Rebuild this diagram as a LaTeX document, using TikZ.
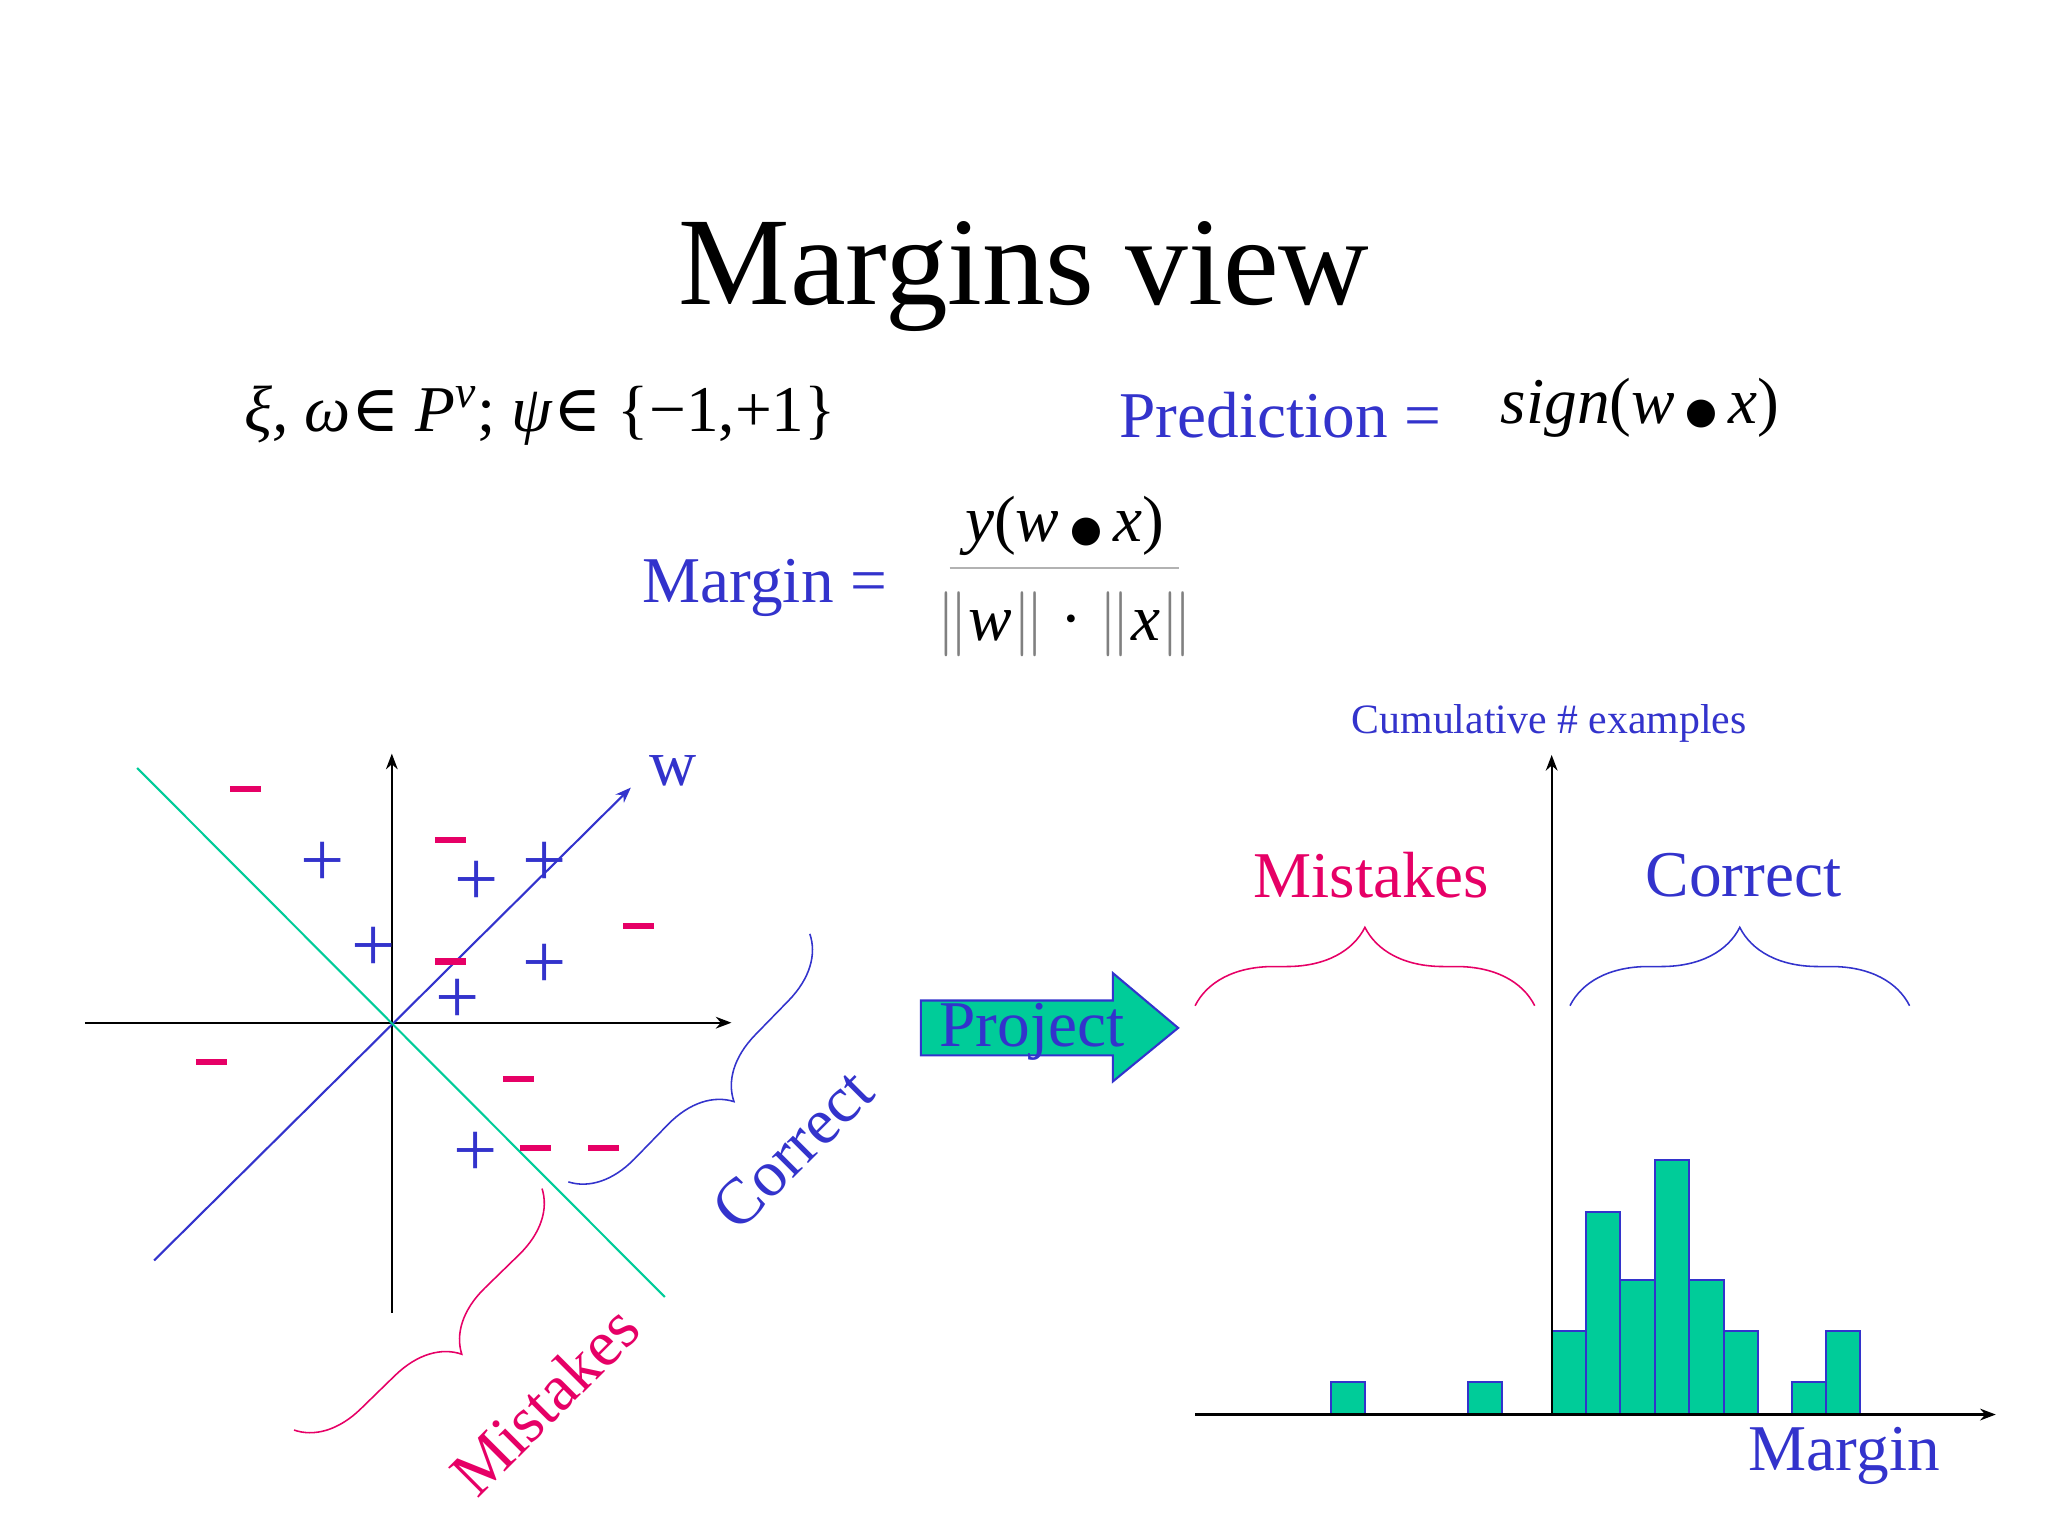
\documentclass[tikz,border=0pt]{standalone}
\usepackage{fontspec}
\setmainfont{Liberation Serif}
\newfontfamily\symf{DejaVu Serif}
\usetikzlibrary{decorations.pathreplacing,arrows.meta}
\definecolor{myblue}{RGB}{51,51,204}
\definecolor{mymag}{RGB}{230,0,102}
\definecolor{mygreen}{RGB}{0,204,153}
\newcommand{\elt}{{\symf ∈}}
\newcommand{\bul}{\,{\symf\fontsize{14}{16}\selectfont ●}\,}
\tikzset{
 big/.style={font=\fontsize{25}{28}\selectfont},
 plus/.style={myblue,font=\fontsize{30}{30}\selectfont,inner sep=0},
 minus/.style={mymag,line width=2.5pt},
 bar/.style={fill=mygreen,draw=myblue,line width=0.7pt},
 axis/.style={line width=0.8pt,-{Stealth[length=6pt]}},
 brc/.style={decorate,decoration={brace,amplitude=24pt,raise=0pt},line width=0.6pt}
}
\begin{document}
\begin{tikzpicture}[x=0.5pt,y=-0.5pt]
\useasboundingbox (0,0) rectangle (1568,1176);
\node[font=\fontsize{48}{50}\selectfont] (title) at (784,212) {Margins view};
\node[big,anchor=west] (def) at (180,318) {\textit{ξ, ω}\elt\ \textit{P}\textsuperscript{\textit{v}}; \textit{ψ}\elt\ \{−1,+1\}};
\node[big,myblue,anchor=west] (pred) at (850,318) {Prediction =};
\node[big,anchor=west] (sign) at (1142,312) {\textit{sign}(\textit{w}\bul\textit{x})};
\node[big,myblue,anchor=west] (marg) at (485,450) {Margin =};
\node[big] (num) at (815,403) {\textit{y}(\textit{w}\bul\textit{x})};
\draw[gray!60,line width=0.6pt] (727,435) -- (903,435);
\node[big] (den) at (815,478) {\textcolor{gray}{$\|$}\textit{w}\textcolor{gray}{$\|$} · \textcolor{gray}{$\|$}\textit{x}\textcolor{gray}{$\|$}};
% left plot
\coordinate (xl) at (65,783); \coordinate (xr) at (560,783);
\coordinate (yb) at (300,1005); \coordinate (yt) at (300,577);
\draw[axis] (xl) -- (xr);
\draw[axis] (yb) -- (yt);
\coordinate (wa) at (118,965); \coordinate (wb) at (483,603);
\draw[myblue,line width=0.8pt,-{Stealth[length=6pt]}] (wa) -- (wb);
\node[big,myblue] (wl) at (515,590) {w};
\coordinate (ga) at (105,588); \coordinate (gb) at (509,993);
\draw[mygreen,line width=0.8pt] (ga) -- (gb);
\foreach \x/\y [count=\i] in {247/662,365/676,417/662,286/727,350/767,417/740,364/884}
  \node[plus] (p\i) at (\x,\y) {+};
\foreach \x/\y in {188/604,345/643,489/709,345/736,162/813,397/826,410/879,462/879}
  \draw[minus] (\x-12,\y) -- (\x+12,\y);
\coordinate (c1) at (620,715); \coordinate (c2) at (435,905);
\draw[brc,myblue] (c1) -- (c2);
\node[big,myblue,rotate=45] (cl) at (607,880) {Correct};
\coordinate (m1) at (415,910); \coordinate (m2) at (225,1095);
\draw[brc,mymag] (m1) -- (m2);
\node[big,mymag,rotate=45] (ml) at (417,1072) {Mistakes};
% project arrow
\draw[fill=mygreen,draw=myblue,line width=0.8pt] (705,766) -- (852,766) -- (852,745) -- (902,787) -- (852,828) -- (852,808) -- (705,808) -- cycle;
\node[big,myblue] (proj) at (790,790) {Project};
% histogram
\coordinate (hl) at (915,1083); \coordinate (hr) at (1528,1083);
\coordinate (vb) at (1188,1083); \coordinate (vt) at (1188,578);
\foreach \a/\b/\t in {1019/1045/1058,1124/1150/1058,1188/1214/1019,1214/1240/928,1240/1267/980,1267/1293/888,1293/1320/980,1320/1346/1019,1372/1398/1058,1398/1424/1019}
  \draw[bar] (\a,1083) rectangle (\b,\t);
\draw[axis] (hl) -- (hr);
\draw[axis] (vb) -- (vt);
\node[myblue,font=\fontsize{16}{18}\selectfont] (cum) at (1186,554) {Cumulative \# examples};
\node[big,myblue] (hm) at (1412,1115) {Margin};
\coordinate (b1) at (915,770); \coordinate (b2) at (1175,770);
\draw[brc,mymag,decoration={amplitude=30pt}] (b1) -- (b2);
\node[big,mymag] (hmis) at (1050,670) {Mistakes};
\coordinate (b3) at (1202,770); \coordinate (b4) at (1462,770);
\draw[brc,myblue,decoration={amplitude=30pt}] (b3) -- (b4);
\node[big,myblue] (hcor) at (1335,670) {Correct};
\end{tikzpicture}
\end{document}
